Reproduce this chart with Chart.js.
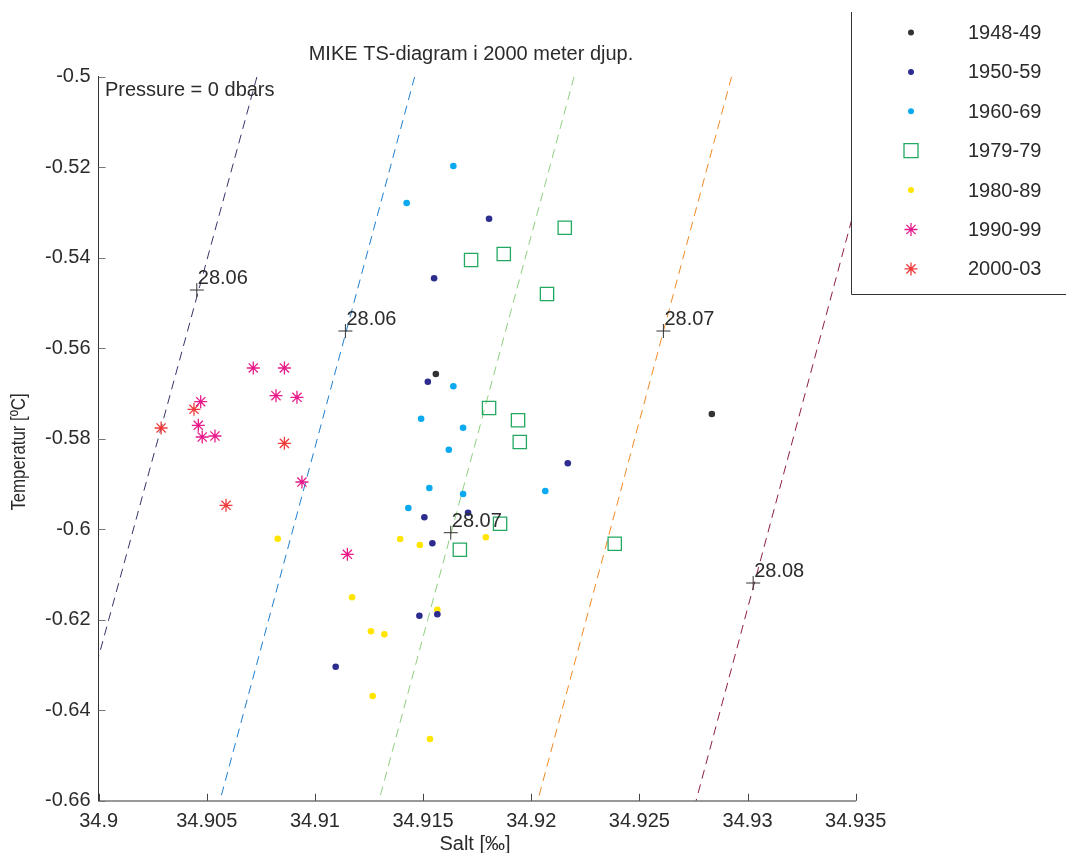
<!DOCTYPE html>
<html>
<head>
<meta charset="utf-8">
<script src="https://cdn.jsdelivr.net/npm/chart.js@4/dist/chart.umd.min.js"></script>
<style>
  body { margin: 0; background: #fff; }
  canvas { display: block; }
</style>
</head>
<body>
<canvas id="tsChart" width="1066" height="853"></canvas>
<script>
// series names
var series = ['1948-49', '1950-59', '1960-69', '1979-79', '1980-89', '1990-99', '2000-03'];

// salt / temperature per period
var salt4849 = [34.91559, 34.92835];
var temp4849 = [-0.56568, -0.57452];

var salt5059 = [34.91805, 34.91551, 34.91522, 34.92169, 34.91708, 34.91506, 34.91543, 34.91483, 34.91566, 34.91096];
var temp5059 = [-0.53136, -0.54453, -0.56738, -0.58541, -0.59633, -0.59735, -0.60309, -0.61909, -0.61878, -0.63036];

var salt6069 = [34.91640, 34.91424, 34.91640, 34.91491, 34.91685, 34.91619, 34.91529, 34.91685, 34.92065, 34.91432];
var temp6069 = [-0.51971, -0.52789, -0.56840, -0.57556, -0.57755, -0.58241, -0.59087, -0.59220, -0.59154, -0.59529];

var salt7979 = [34.92155, 34.91873, 34.91722, 34.92073, 34.91805, 34.91939, 34.91947, 34.91856, 34.91670, 34.92386];
var temp7979 = [-0.53335, -0.53916, -0.54049, -0.54800, -0.57319, -0.57591, -0.58071, -0.59876, -0.60451, -0.60318];

var salt8089 = [34.90828, 34.91394, 34.91485, 34.91790, 34.91172, 34.91566, 34.91259, 34.91321, 34.91267, 34.91532];
var temp8089 = [-0.60208, -0.60214, -0.60347, -0.60177, -0.61503, -0.61777, -0.62254, -0.62320, -0.63684, -0.64634];

var salt9099 = [34.90715, 34.90859, 34.90472, 34.90820, 34.90917, 34.90461, 34.90479, 34.90538, 34.90940, 34.91150];
var temp9099 = [-0.56435, -0.56435, -0.57180, -0.57048, -0.57083, -0.57702, -0.57960, -0.57938, -0.58955, -0.60552];

var salt0003 = [34.90441, 34.90289, 34.90859, 34.90589];
var temp0003 = [-0.57348, -0.57761, -0.58100, -0.59470];

// isopycnals (end points) and their labelled points
var isoLabels = ['28.06', '28.06', '28.07', '28.07', '28.08'];
var isoSalt = [[34.90732, 34.9], [34.91461, 34.90561], [34.92198, 34.91296], [34.92926, 34.92030], [34.935, 34.92762]];
var isoTemp = [[-0.5, -0.62815], [-0.5, -0.66], [-0.5, -0.66], [-0.5, -0.66], [-0.52829, -0.66]];
var markSalt = [34.90454, 34.91141, 34.91628, 34.92611, 34.93026];
var markTemp = [-0.54712, -0.55618, -0.60075, -0.55618, -0.61187];

// tick labels
var xTicks = [34.9, 34.905, 34.91, 34.915, 34.92, 34.925, 34.93, 34.935];
var yTicks = [-0.5, -0.52, -0.54, -0.56, -0.58, -0.6, -0.62, -0.64, -0.66];

var FONT = '"Liberation Sans", Arial, Helvetica, sans-serif';
var TXT = '#2b2b2b';

function pts(xs, ys) {
    return xs.map(function (x, i) { return { x: x, y: ys[i] }; });
}

var pointStyles = [
    { style: 'circle', color: '#333333', r: 3.3 },
    { style: 'circle', color: '#2d2d8f', r: 3.3 },
    { style: 'circle', color: '#0ba9ef', r: 3.3 },
    { style: 'rect', color: '#23a862', r: 9.4 },
    { style: 'circle', color: '#ffe500', r: 3.3 },
    { style: 'star', color: '#e8198b', r: 6.5 },
    { style: 'star', color: '#ef3a3a', r: 6.5 }
];
var seriesData = [
    pts(salt4849, temp4849), pts(salt5059, temp5059), pts(salt6069, temp6069),
    pts(salt7979, temp7979), pts(salt8089, temp8089), pts(salt9099, temp9099),
    pts(salt0003, temp0003)
];
var isoColors = ['#35356b', '#1f7fcf', '#8fcf7f', '#f08a24', '#8e1f3f'];

var datasets = [];
series.forEach(function (name, i) {
    var s = pointStyles[i];
    datasets.push({
        type: 'scatter',
        label: name,
        data: seriesData[i],
        pointStyle: s.style,
        pointRadius: s.r,
        pointBackgroundColor: s.style === 'circle' ? s.color : 'rgba(0,0,0,0)',
        pointBorderColor: s.color,
        pointBorderWidth: s.style === 'circle' ? 0 : 1.3,
        order: 1
    });
});
isoLabels.forEach(function (lab, i) {
    datasets.push({
        type: 'line',
        label: 'iso' + i,
        data: pts(isoSalt[i], isoTemp[i]),
        borderColor: isoColors[i],
        borderWidth: 1,
        borderDash: [9, 6],
        pointRadius: 0,
        fill: false,
        order: 5
    });
});
datasets.push({
    type: 'scatter',
    label: 'marks',
    data: pts(markSalt, markTemp),
    pointStyle: 'cross',
    pointRadius: 7,
    pointBorderColor: '#333',
    pointBorderWidth: 1,
    order: 0
});

function drawMarker(ctx, style, color, x, y, r) {
    ctx.save();
    ctx.beginPath();
    if (style === 'circle') {
        ctx.fillStyle = color;
        ctx.arc(x, y, r, 0, Math.PI * 2);
        ctx.fill();
    } else if (style === 'rect') {
        var h = r * Math.SQRT1_2;
        ctx.strokeStyle = color;
        ctx.lineWidth = 1.3;
        ctx.rect(x - h, y - h, 2 * h, 2 * h);
        ctx.stroke();
    } else {
        ctx.strokeStyle = color;
        ctx.lineWidth = 1.3;
        for (var k = 0; k < 4; k++) {
            var a = k * Math.PI / 4;
            ctx.moveTo(x - Math.cos(a) * r, y - Math.sin(a) * r);
            ctx.lineTo(x + Math.cos(a) * r, y + Math.sin(a) * r);
        }
        ctx.stroke();
    }
    ctx.restore();
}

var decorPlugin = {
    id: 'decor',
    afterDraw: function (chart) {
        var ctx = chart.ctx;
        var xs = chart.scales.x, ys = chart.scales.y;
        var area = chart.chartArea;

        // inward tick marks
        ctx.save();
        ctx.lineWidth = 1;
        ctx.strokeStyle = '#444';
        xTicks.forEach(function (v) {
            var px = Math.round(xs.getPixelForValue(v)) + 0.5;
            ctx.beginPath();
            ctx.moveTo(px, area.bottom);
            ctx.lineTo(px, area.bottom - 7);
            ctx.stroke();
        });
        ctx.strokeStyle = '#777';
        yTicks.forEach(function (v) {
            var py = Math.round(ys.getPixelForValue(v)) + 0.5;
            ctx.beginPath();
            ctx.moveTo(area.left, py);
            ctx.lineTo(area.left + 7, py);
            ctx.stroke();
        });
        ctx.restore();

        // isopycnal labels
        ctx.save();
        ctx.font = '20px ' + FONT;
        ctx.fillStyle = TXT;
        ctx.textBaseline = 'alphabetic';
        isoLabels.forEach(function (lab, i) {
            var px = xs.getPixelForValue(markSalt[i]);
            var py = ys.getPixelForValue(markTemp[i]);
            ctx.fillText(lab, px + 1, py - 6);
        });

        // titles
        ctx.textAlign = 'center';
        ctx.fillText('MIKE TS-diagram i 2000 meter djup.', 471, 60);
        ctx.textAlign = 'left';
        ctx.fillText('Pressure = 0 dbars', 105, 96);
        ctx.textAlign = 'center';
        ctx.fillText('Salt [\u2030]', 475, 850);
        ctx.save();
        ctx.translate(25, 452);
        ctx.rotate(-Math.PI / 2);
        ctx.scale(0.84, 1);
        ctx.fillText('Temperatur [\u00baC]', 0, 0);
        ctx.restore();
        ctx.restore();

        // legend box
        ctx.save();
        ctx.fillStyle = '#fff';
        ctx.fillRect(851, 12, 215, 282);
        ctx.strokeStyle = '#333';
        ctx.lineWidth = 1;
        ctx.beginPath();
        ctx.moveTo(851.5, 12);
        ctx.lineTo(851.5, 294.5);
        ctx.lineTo(1066, 294.5);
        ctx.stroke();
        ctx.font = '20px ' + FONT;
        ctx.fillStyle = TXT;
        ctx.textBaseline = 'middle';
        ctx.textAlign = 'left';
        series.forEach(function (name, i) {
            var ry = 32.5 + i * 39.4;
            var s = pointStyles[i];
            var r = s.style === 'rect' ? 9.9 : (s.style === 'circle' ? 3 : 6.5);
            drawMarker(ctx, s.style, s.color, 911, ry, r);
            ctx.fillStyle = TXT;
            ctx.fillText(name, 968, ry + 1);
        });
        ctx.restore();
    }
};

var ctx = document.getElementById('tsChart').getContext('2d');
var myChart = new Chart(ctx, {
    data: { datasets: datasets },
    options: {
        responsive: false,
        animation: false,
        devicePixelRatio: 1,
        layout: { padding: { left: 0, right: 210.3, top: 76.8, bottom: 0 } },
        plugins: {
            legend: { display: false },
            tooltip: { enabled: false },
            title: { display: false }
        },
        scales: {
            x: {
                type: 'linear',
                min: 34.9,
                max: 34.935,
                afterBuildTicks: function (s) { s.ticks = xTicks.map(function (v) { return { value: v }; }); },
                afterFit: function (s) { s.height = 52.2; },
                grid: { display: true, drawOnChartArea: false, drawTicks: false },
                border: { color: '#999', width: 2 },
                ticks: {
                    padding: 9,
                    color: TXT,
                    autoSkip: false,
                    maxRotation: 0,
                    font: { size: 20, family: FONT },
                    callback: function (v) { return String(v); }
                }
            },
            y: {
                type: 'linear',
                min: -0.66,
                max: -0.5,
                afterBuildTicks: function (s) { s.ticks = yTicks.map(function (v) { return { value: v }; }); },
                afterFit: function (s) { s.width = 98.6; },
                grid: { display: true, drawOnChartArea: false, drawTicks: false },
                border: { color: '#333', width: 1 },
                ticks: {
                    padding: 8,
                    color: TXT,
                    autoSkip: false,
                    font: { size: 20, family: FONT },
                    callback: function (v) { return String(v); }
                }
            }
        }
    },
    plugins: [decorPlugin]
});
</script>
</body>
</html>
